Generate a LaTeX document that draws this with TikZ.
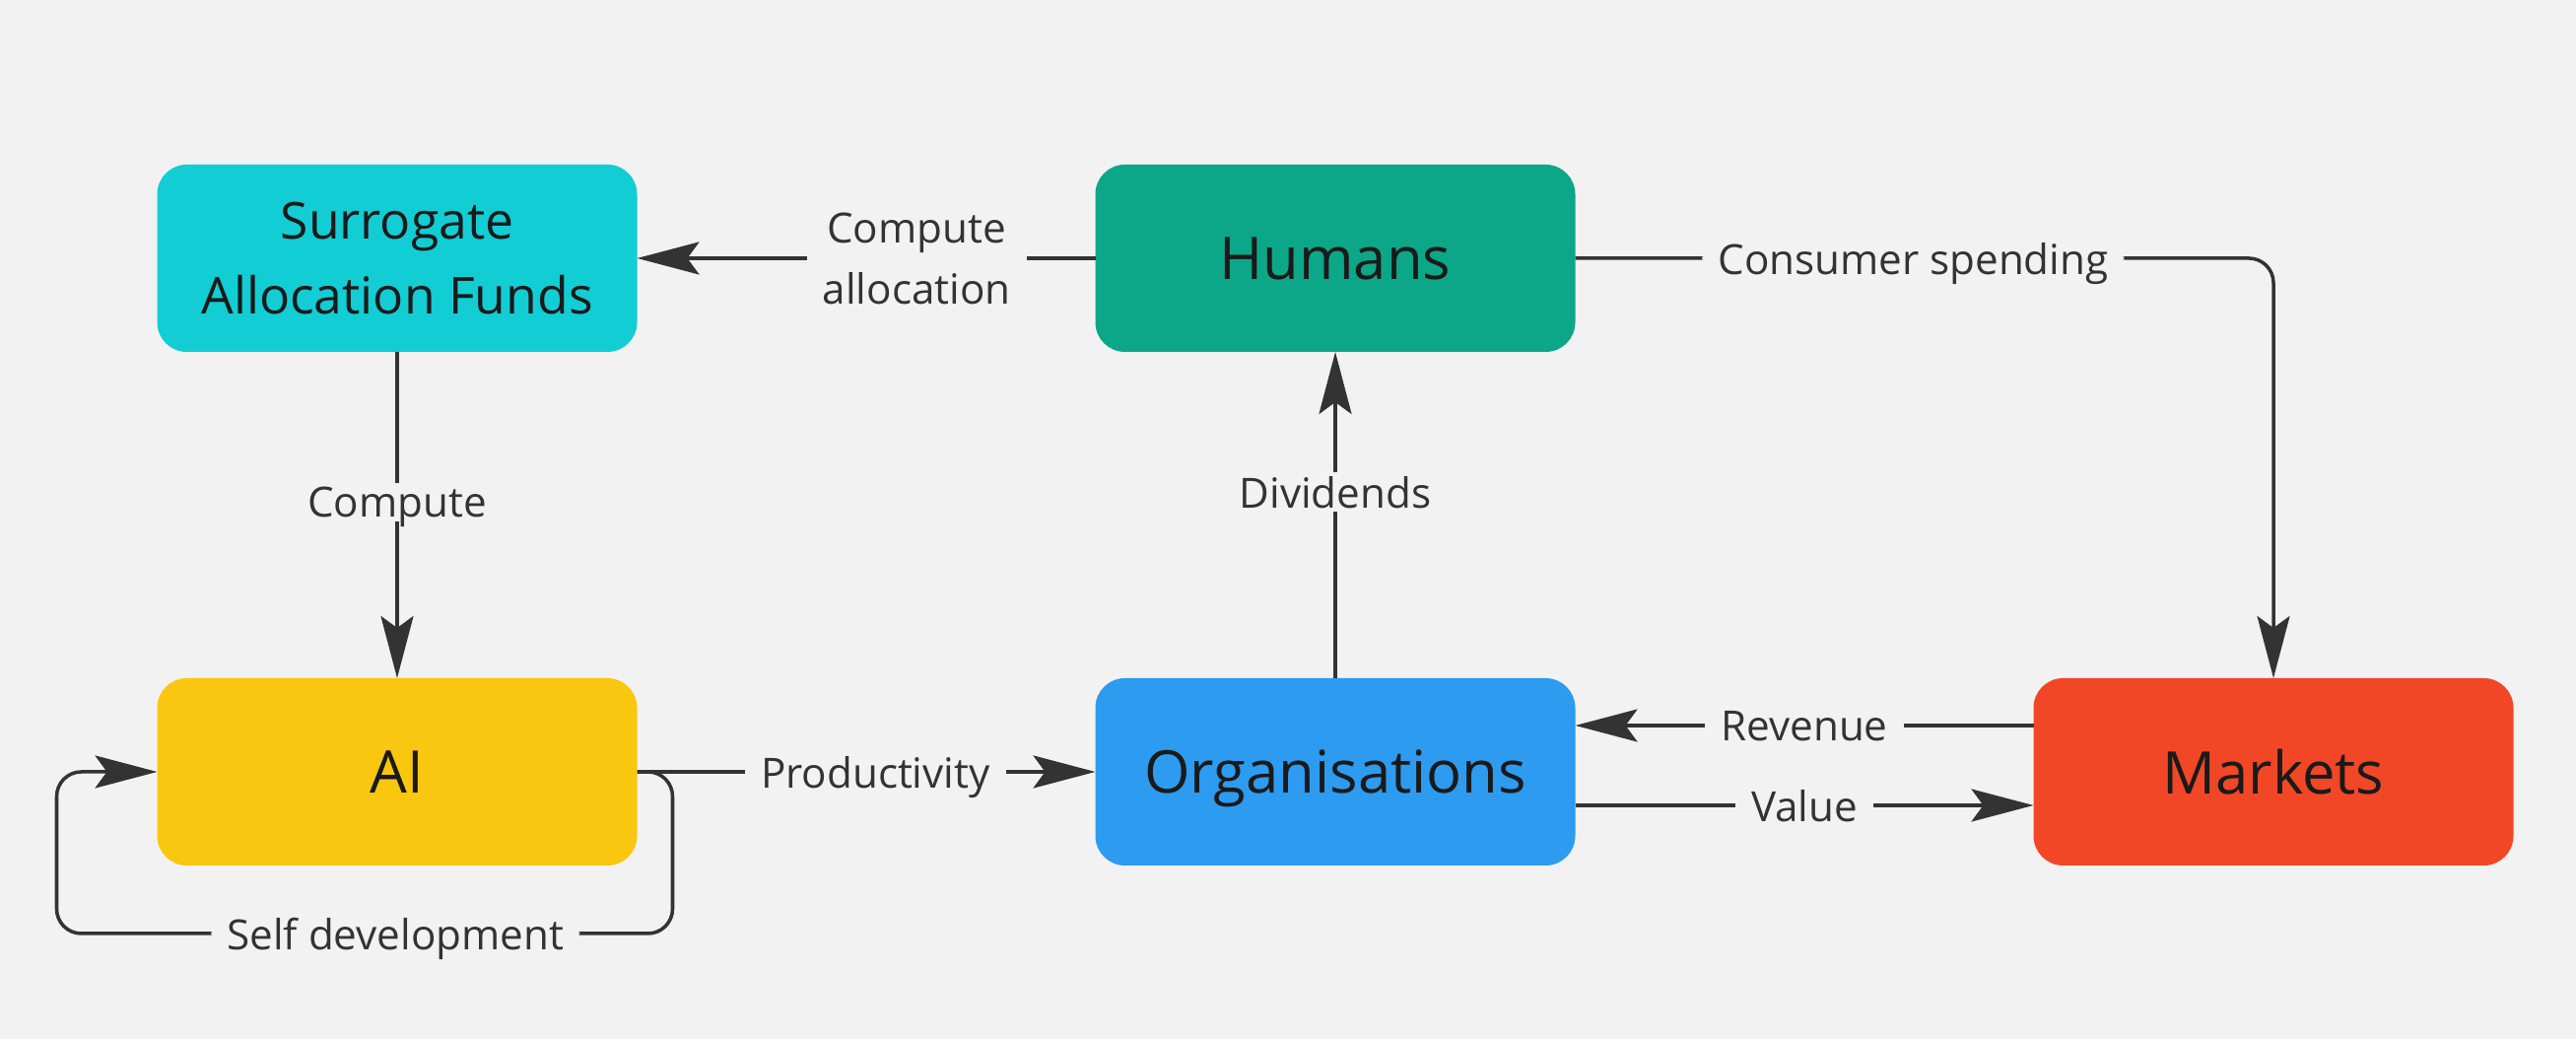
\documentclass[tikz,border=0pt]{standalone}
\usepackage{fontspec}
\setmainfont{Open Sans}
\usetikzlibrary{arrows.meta,calc}

\definecolor{canvas}{HTML}{F2F2F2}
\definecolor{ink}{HTML}{1A1A1A}
\definecolor{wire}{HTML}{333333}
\definecolor{fundcyan}{HTML}{13CDD4}
\definecolor{humangreen}{HTML}{0CA789}
\definecolor{aiyellow}{HTML}{FAC710}
\definecolor{orgblue}{HTML}{2D9BF0}
\definecolor{marketred}{HTML}{F24726}

\begin{document}
\begin{tikzpicture}[
  x=1cm,
  y=1cm,
  block/.style={rounded corners=0.3cm,minimum width=4.87cm,minimum height=1.90cm,
    inner sep=0pt,outer sep=0pt,text=ink,align=center,text depth=0pt,
    font=\fontsize{17}{23}\selectfont},
  smallblock/.style={block,font=\fontsize{14.7}{21.6}\selectfont},
  lbl/.style={fill=canvas,text=wire,inner xsep=0.16cm,inner ysep=0.04cm,
    text depth=0pt,align=center,font=\fontsize{12}{17.5}\selectfont},
  flow/.style={draw=wire,line width=1pt,
    -{Stealth[length=6.3mm,width=3.3mm,inset=1.2mm]}}
]
\fill[canvas] (0,0) rectangle (26.14,10.54);
\useasboundingbox (0,0) rectangle (26.14,10.54);

% boxes
\node[smallblock,fill=fundcyan] (funds) at (4.03,7.92) {Surrogate\\Allocation Funds};
\node[block,fill=humangreen] (humans) at (13.55,7.92) {Humans};
\node[block,fill=aiyellow] (ai) at (4.03,2.71) {AI};
\node[block,fill=orgblue] (orgs) at (13.55,2.71) {Organisations};
\node[block,fill=marketred] (markets) at (23.07,2.71) {Markets};

% flows
\draw[flow] (humans.west) -- node[lbl,pos=0.39] {Compute\\allocation} (funds.east);
\draw[flow] (funds.south) -- node[lbl,pos=0.46] {Compute} (ai.north);
\draw[flow] (orgs.north) -- node[lbl,pos=0.57] {Dividends} (humans.south);
\draw[flow,rounded corners=0.25cm] (humans.east)
  -| node[lbl,pos=0.242] {Consumer spending} (markets.north);
\draw[flow] ([yshift=0.47cm]markets.west)
  -- node[lbl] {Revenue} ([yshift=0.47cm]orgs.east);
\draw[flow] ([yshift=-0.34cm]orgs.east)
  -- node[lbl] {Value} ([yshift=-0.34cm]markets.west);
\draw[flow] (ai.east) -- node[lbl,pos=0.52] {Productivity} (orgs.west);

% self loop
\coordinate (loopr) at ($(ai.east)+(0.36,-1.64)$);
\coordinate (loopl) at ($(ai.west)+(-1.02,-1.64)$);
\draw[flow,rounded corners=0.25cm] (ai.east) -| (loopr)
  -- node[lbl,pos=0.45] {Self development} (loopl) |- (ai.west);
\end{tikzpicture}
\end{document}
